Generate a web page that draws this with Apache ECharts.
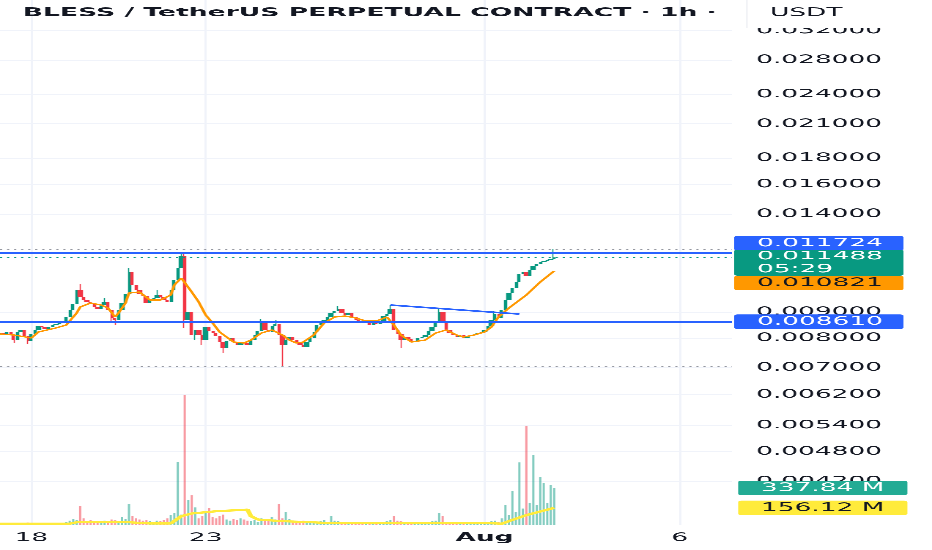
<!DOCTYPE html>
<html>
<head>
<meta charset="utf-8">
<title>BLESS / TetherUS PERPETUAL CONTRACT · 1h</title>
<script src="https://cdn.jsdelivr.net/npm/echarts@6/dist/echarts.min.js"></script>
<style>
html, body { margin: 0; padding: 0; background: #fff; overflow: hidden; }
/* the source picture is stretched sideways, so the chart is drawn narrow and widened */
#main { width: 424px; height: 550px; transform: scaleX(2.198113); transform-origin: 0 0; }
</style>
</head>
<body>
<div id="main"></div>
<script>
// hourly closes, in 1e-6 USDT
const closes = [
	8182, 8109, 8219, 8145, 7928, 8219, 8294, 8072, 7893, 8145,
	8294, 8444, 8406, 8331, 8406, 8482, 8521, 8598, 8637, 8794,
	9075, 9324, 9931, 9622, 9493, 9409, 9324, 9199, 9116, 9282,
	9409, 9075, 8754, 8676, 9075, 9366, 9754, 10770, 10157, 9931,
	9754, 9666, 9366, 9493, 9579, 9710, 9622, 9493, 9409, 9931,
	10389, 10966, 11575, 8676, 8994, 8109, 8294, 8109, 7928, 8406,
	8256, 8182, 8072, 7857, 7648, 7893, 8000, 7857, 7752, 7857,
	7822, 7752, 7928, 8109, 8256, 8559, 8294, 8219, 8444, 8521,
	8109, 7752, 7928, 8036, 7928, 7857, 7752, 7682, 7857, 8000,
	8219, 8482, 8598, 8676, 8794, 8953, 9034, 9116, 8953, 8873,
	8953, 8794, 8676, 8598, 8559, 8637, 8482, 8559, 8521, 8598,
	8833, 8913, 9116, 8294, 8145, 7928, 8036, 7964, 7857, 7893,
	8000, 8036, 8109, 8256, 8406, 8559, 8994, 8637, 8294, 8182,
	8109, 8036, 8109, 8000, 8072, 8109, 8145, 8182, 8219, 8294,
	8444, 8676, 8913, 8754, 9075, 9493, 9798, 10021, 10296, 10674,
	10770, 10578, 10867, 11065, 11165, 11266, 11317, 11368, 11419, 11488
];
// open of each candle is the close before it
const firstOpen = 8145;
// candles whose wicks stick out
const wickHigh = {23: 10203, 30: 9579, 37: 10966, 45: 9931, 52: 11785, 53: 11732, 75: 8715, 79: 8676, 97: 9240, 112: 9282, 126: 9116, 142: 9034, 159: 11946};
const wickLow = {4: 7822, 8: 7787, 32: 8598, 33: 8482, 53: 8369, 56: 7928, 58: 7752, 64: 7478, 81: 7060, 115: 7648};

// volume, millions
const volumes = [
	12, 8, 15, 10, 20, 9, 14, 11, 22, 13,
	10, 16, 12, 9, 14, 11, 13, 18, 15, 25,
	40, 55, 48, 175, 60, 35, 45, 30, 28, 25,
	40, 30, 50, 45, 35, 70, 55, 190, 80, 60,
	50, 40, 45, 35, 30, 40, 35, 45, 60, 90,
	110, 575, 95, 1187, 230, 270, 160, 60, 80, 125,
	155, 70, 60, 85, 95, 50, 40, 55, 45, 60,
	50, 40, 35, 45, 30, 60, 45, 40, 70, 50,
	190, 60, 120, 55, 40, 35, 30, 40, 25, 30,
	25, 30, 35, 45, 30, 85, 40, 35, 30, 25,
	20, 30, 25, 20, 25, 30, 20, 25, 20, 30,
	25, 35, 45, 85, 40, 35, 30, 25, 20, 30,
	25, 20, 30, 25, 35, 40, 110, 85, 30, 25,
	20, 25, 20, 15, 20, 15, 20, 15, 20, 25,
	30, 35, 40, 30, 60, 180, 90, 310, 120, 570,
	150, 905, 200, 635, 180, 435, 380, 200, 365, 337.84
];

// orange moving average [candle, 1e-6 USDT]
const maLine = [
	[0, 8145], [4, 8109], [9, 8000], [11, 8219], [16, 8369], [19, 8482], [22, 8953], [23, 9199],
	[26, 9366], [29, 9282], [31, 9157], [33, 8794], [34, 8953], [36, 9366], [37, 9798], [40, 9842],
	[43, 9493], [46, 9493], [49, 9710], [50, 10157], [52, 10483], [53, 10530], [55, 9842], [57, 9409],
	[59, 8873], [61, 8559], [63, 8219], [65, 8036], [67, 7857], [70, 7822], [72, 7928], [75, 8182],
	[78, 8294], [81, 8109], [83, 7928], [85, 7822], [87, 7857], [90, 8109], [93, 8559], [96, 8794],
	[99, 8833], [102, 8754], [105, 8637], [108, 8637], [111, 8794], [113, 8482], [115, 8109], [118, 7857],
	[122, 7928], [125, 8182], [128, 8294], [131, 8109], [133, 8036], [136, 8109], [139, 8219], [141, 8406],
	[143, 8794], [146, 9157], [151, 9710], [155, 10296], [159, 10821]
];
// yellow volume average [candle, millions]
const volMaLine = [
	[0, 12], [20, 12], [22, 25], [34, 25], [35, 14], [37, 25], [43, 14], [49, 14], [52, 80], [55, 105],
	[62, 125], [71, 140], [72, 80], [74, 50], [81, 35], [89, 26], [93, 20], [137, 20], [138, 12], [144, 12],
	[146, 35], [151, 90], [159, 156.12]
];

const slotCount = 211;
const dayTicks = {9: '18', 59: '23', 139: 'Aug', 195: '6'};
const yTicks = [0.032, 0.028, 0.024, 0.021, 0.018, 0.016, 0.014, 0.009, 0.008, 0.007, 0.0062, 0.0054, 0.0048, 0.0042];

const levelLines = [0.011724, 0.008610];
const trendLine = [[112, 0.009282], [149, 0.008913]];
const lastPrice = 0.011488;
const priceTags = ['0.011724', '0.011488', '0.010821', '0.008610'];
const countdown = '05:29';
const volumeTags = ['337.84 M', '156.12 M'];
const titleText = 'BLESS / TetherUS PERPETUAL CONTRACT · 1h ·';
const quoteText = 'USDT';

const FONT = 'DejaVu Sans';
const INK = '#131722';
const UP = '#089981';
const DOWN = '#f23645';
const GRIDC = '#f0f3fa';
const dotted = [1, 2.2];

const categories = [];
for (let i = 0; i < slotCount; i++) categories.push(String(i));

const candles = closes.map((c, i) => {
	const o = i === 0 ? firstOpen : closes[i - 1];
	const hi = wickHigh[i] !== undefined ? wickHigh[i] : Math.max(o, c);
	const lo = wickLow[i] !== undefined ? wickLow[i] : Math.min(o, c);
	return [o / 1e6, c / 1e6, lo / 1e6, hi / 1e6];
});
const highest = Math.max(...candles.map(c => c[3]));
const lowest = Math.min(...candles.map(c => c[2]));

const volData = volumes.map((v, i) => ({
	value: v,
	itemStyle: {color: candles[i][1] >= candles[i][0] ? 'rgba(8,153,129,0.5)' : 'rgba(242,54,69,0.5)'}
}));

const isDay = (i) => dayTicks[i] !== undefined;

// a horizontal line across the whole pane
function across(v, style) {
	return [{coord: [0, v], lineStyle: style}, {coord: [slotCount - 1, v]}];
}

var myChart = echarts.init(document.querySelector('#main'), null, {devicePixelRatio: 3});

var option = {
	animation: false,
	grid: [
		{left: 0, right: 91, top: 0, bottom: 25},
		{left: 0, right: 91, top: 385, bottom: 25}
	],
	xAxis: [{
		type: 'category',
		data: categories,
		boundaryGap: false,
		axisLine: {show: false},
		axisTick: {show: false},
		axisLabel: {
			interval: isDay,
			margin: 7,
			fontFamily: FONT, fontSize: 12, color: INK,
			formatter: (v, i) => dayTicks[i] === 'Aug' ? '{b|Aug}' : (dayTicks[i] || ''),
			rich: {b: {fontFamily: FONT, fontSize: 12, fontWeight: 'bold', color: INK}}
		},
		splitLine: {show: true, interval: isDay, lineStyle: {color: GRIDC, width: 1}}
	}, {
		type: 'category',
		gridIndex: 1,
		data: categories,
		boundaryGap: false,
		show: false
	}],
	yAxis: [{
		type: 'log',
		logBase: 10,
		position: 'right',
		min: 0.0034457,
		max: 0.036669,
		axisLine: {show: false},
		axisTick: {show: false, customValues: yTicks},
		axisLabel: {
			customValues: yTicks,
			margin: 11,
			fontFamily: FONT, fontSize: 12, color: INK,
			formatter: v => Number(v).toFixed(6)
		},
		splitLine: {show: true, lineStyle: {color: GRIDC, width: 1}}
	}, {
		type: 'value',
		gridIndex: 1,
		min: 0,
		max: 1275,
		show: false
	}],
	series: [{
		name: 'price',
		type: 'candlestick',
		data: candles,
		barWidth: 1.8,
		itemStyle: {color: UP, color0: DOWN, borderColor: UP, borderColor0: DOWN, borderWidth: 0.5},
		markLine: {
			symbol: 'none',
			silent: true,
			animation: false,
			label: {show: false},
			data: [
				across(highest, {color: '#9598a1', type: dotted, width: 1}),
				across(lowest, {color: '#9598a1', type: dotted, width: 1}),
				across(lastPrice, {color: UP, type: dotted, width: 1}),
				across(levelLines[0], {color: '#2962ff', type: 'solid', width: 1.6}),
				across(levelLines[1], {color: '#2962ff', type: 'solid', width: 1.6}),
				[{coord: trendLine[0], lineStyle: {color: '#2962ff', type: 'solid', width: 1.6}}, {coord: trendLine[1]}]
			]
		}
	}, {
		name: 'MA',
		type: 'line',
		data: maLine.map(p => [p[0], p[1] / 1e6]),
		showSymbol: false,
		z: 3,
		lineStyle: {color: '#ff9800', width: 1.3}
	}, {
		name: 'Volume',
		type: 'bar',
		xAxisIndex: 1,
		yAxisIndex: 1,
		data: volData,
		barWidth: 1
	}, {
		name: 'Volume MA',
		type: 'line',
		xAxisIndex: 1,
		yAxisIndex: 1,
		data: volMaLine,
		showSymbol: false,
		z: 4,
		lineStyle: {color: '#ffeb3b', width: 2.2}
	}]
};
myChart.setOption(option);

// price scale tags, placed from the axis
const tagShift = [-10, 5, 12, 0];
const tagFill = ['#2962ff', UP, '#ff9800', '#2962ff'];
const tagInk = ['#fff', '#fff', INK, '#fff'];
const extras = [];
priceTags.forEach((t, k) => {
	const y = myChart.convertToPixel({yAxisIndex: 0}, parseFloat(t)) + tagShift[k];
	const two = k === 1;
	const h = two ? 26 : 14.5;
	extras.push({type: 'rect', z: 100, shape: {x: 334, y: y - h / 2, width: 77, height: h, r: 1.5}, style: {fill: tagFill[k]}});
	extras.push({type: 'text', z: 101, x: 344.4, y: y, style: {
		text: two ? t + '\n' + countdown : t, fill: tagInk[k], fontFamily: FONT, fontSize: 12,
		lineHeight: 13, verticalAlign: 'middle', align: 'left'
	}});
});
const volFill = ['#22ab94', '#ffeb3b'];
const volInk = ['#fff', INK];
volumeTags.forEach((t, k) => {
	const y = myChart.convertToPixel({yAxisIndex: 1}, parseFloat(t));
	extras.push({type: 'rect', z: 100, shape: {x: 335.8, y: y - 7.25, width: 77, height: 14.5, r: 1.5}, style: {fill: volFill[k]}});
	extras.push({type: 'text', z: 101, x: 346.2, y: y, style: {
		text: t, fill: volInk[k], fontFamily: FONT, fontSize: 12, verticalAlign: 'middle', align: 'left'
	}});
});
// title and the currency box in the top right corner
extras.push({type: 'text', z: 101, x: 10.3, y: 13, style: {
	text: titleText, fill: INK, fontFamily: FONT, fontSize: 12.1, fontWeight: 'bold', verticalAlign: 'middle'
}});
extras.push({type: 'rect', z: 99, shape: {x: 339.8, y: 0, width: 90, height: 28}, style: {fill: '#fff'}});
extras.push({type: 'line', z: 99, shape: {x1: 339.8, y1: 0, x2: 339.8, y2: 28}, style: {stroke: '#e6e8ee', lineWidth: 0.5}});
extras.push({type: 'text', z: 101, x: 350.3, y: 13, style: {text: quoteText, fill: INK, fontFamily: FONT, fontSize: 12, verticalAlign: 'middle'}});

myChart.setOption({graphic: extras});
</script>
</body>
</html>
